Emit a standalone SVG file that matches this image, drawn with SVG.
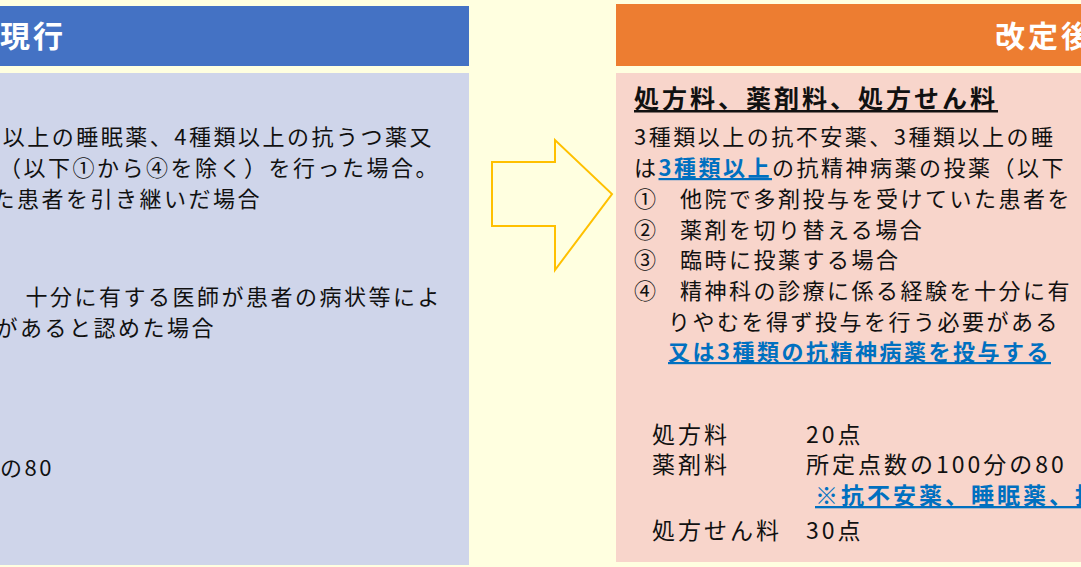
<svg xmlns="http://www.w3.org/2000/svg" width="1081" height="567" viewBox="0 0 1081 567">
<style>
text{font-family:"Noto Sans CJK JP","Noto Sans",sans-serif;font-size:22px;letter-spacing:2.5px;fill:#111}
.h{font-size:30px;font-weight:bold;fill:#fff;letter-spacing:3px}
.b{fill:#0070C0;font-weight:bold;text-decoration:underline}
.e{text-anchor:end}
.f{font-size:23px;letter-spacing:3px}
</style>
<rect width="1081" height="567" fill="#FFFFE0"/>
<g id="current">
<rect x="0" y="6" width="469" height="60" fill="#4472C4"/>
<text class="h" x="0" y="47">現行</text>
<rect x="0" y="73" width="469" height="492" fill="#CFD5EA"/>
<text class="e" x="434" y="145">以上の睡眠薬、4種類以上の抗うつ薬又</text>
<text class="e" x="440" y="176">薬（以下①から④を除く）を行った場合。</text>
<text class="e" x="262" y="207">た患者を引き継いだ場合</text>
<text class="e" x="442" y="305">十分に有する医師が患者の病状等によ</text>
<text class="e" x="216" y="336">があると認めた場合</text>
<text x="0" y="476">の80</text>
</g>
<g id="arrow">
<path d="M492,162 H555 V140 L612,194 L555,270 V226 H492 Z" fill="#FFFFE0" stroke="#FFC000" stroke-width="2"/>
</g>
<g id="revised">
<rect x="616" y="4" width="465" height="62" fill="#ED7D31"/>
<text class="h" x="995" y="47">改定後</text>
<rect x="616" y="73" width="465" height="489" fill="#F8D5CB"/>
<text x="634" y="108" style="font-weight:bold;text-decoration:underline;font-size:25px;letter-spacing:3px">処方料、薬剤料、処方せん料</text>
<text x="634" y="145">3種類以上の抗不安薬、3種類以上の睡</text>
<text x="634" y="176">は<tspan class="b">3種類以上</tspan>の抗精神病薬の投薬（以下</text>
<text x="634" y="207">①<tspan x="680">他院で多剤投与を受けていた患者を</tspan></text>
<text x="634" y="238">②<tspan x="680">薬剤を切り替える場合</tspan></text>
<text x="634" y="268">③<tspan x="680">臨時に投薬する場合</tspan></text>
<text x="634" y="299">④<tspan x="680">精神科の診療に係る経験を十分に有</tspan></text>
<text x="668" y="330">りやむを得ず投与を行う必要がある</text>
<text x="668" y="360" class="b">又は3種類の抗精神病薬を投与する</text>
<text class="f" x="652" y="443">処方料</text><text class="f" x="806" y="443">20点</text>
<text class="f" x="652" y="473">薬剤料</text><text class="f" x="806" y="473">所定点数の100分の80（</text>
<text class="f b" x="815" y="504">※抗不安薬、睡眠薬、抗</text>
<text class="f" x="652" y="539">処方せん料</text><text class="f" x="806" y="539">30点</text>
</g>
</svg>
